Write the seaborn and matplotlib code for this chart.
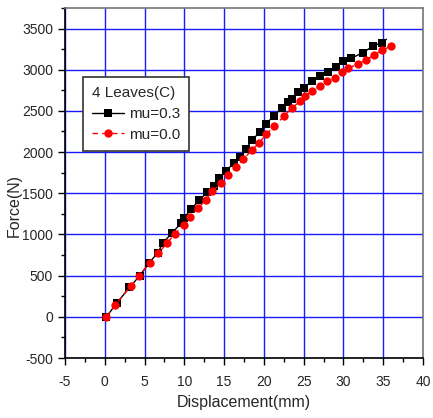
import matplotlib
matplotlib.use("Agg")
import matplotlib.pyplot as plt
from matplotlib.ticker import MultipleLocator
import seaborn as sns
import pandas as pd

# Force-displacement curves for a 4-leaf spring, two friction coefficients
disp_mu03 = [0.2, 1.5, 3.1, 4.4, 5.6, 6.7, 7.3, 8.5, 9.6, 10.0, 10.8, 11.9, 12.8,
             13.75, 14.4, 15.3, 16.25, 17.0, 17.7, 18.5, 19.5, 20.3, 21.25, 22.3,
             23.0, 23.5, 24.3, 25.0, 26.0, 27.1, 28.0, 29.0, 30.0, 31.0, 32.5,
             33.75, 34.8, 35.4]
force_mu03 = [0, 165, 357, 498, 659, 780, 900, 1020, 1141, 1200, 1305, 1415, 1510,
              1590, 1683, 1775, 1872, 1944, 2032, 2144, 2245, 2345, 2440, 2538,
              2610, 2647, 2727, 2779, 2859, 2928, 2968, 3028, 3100, 3141, 3209,
              3290, 3329, 3370]

disp_mu00 = [0.2, 1.33, 3.25, 4.3, 5.7, 6.75, 7.8, 8.8, 9.9, 10.7, 11.75, 12.7,
             13.5, 14.6, 15.5, 16.5, 17.4, 18.5, 19.4, 20.3, 21.3, 22.5, 23.5,
             24.6, 25.2, 26.1, 27.1, 27.9, 28.9, 29.8, 30.6, 31.8, 32.8, 33.9,
             34.9, 36.0]
force_mu00 = [0, 145, 370, 498, 659, 775, 891, 1008, 1110, 1213, 1321, 1422,
              1522, 1623, 1723, 1823, 1912, 2024, 2113, 2217, 2313, 2434, 2534,
              2618, 2678, 2747, 2807, 2859, 2900, 2968, 3020, 3068, 3117, 3181,
              3237, 3289]

series_labels = ["mu=0.3", "mu=0.0"]
legend_title = "4 Leaves(C)"

sns.set_style("white")
plt.rcParams["font.family"] = ["Liberation Sans", "DejaVu Sans"]
plt.rcParams["axes.unicode_minus"] = False

df03 = pd.DataFrame({"disp": disp_mu03, "force": force_mu03})
df00 = pd.DataFrame({"disp": disp_mu00, "force": force_mu00})

fig = plt.figure(figsize=(4.33, 4.18), dpi=100)
ax = fig.add_axes([0.150, 0.1435, 0.827, 0.8375])

sns.lineplot(data=df03, x="disp", y="force", sort=False, ax=ax, color="black",
             lw=1.0, marker="s", markersize=6.0, markeredgewidth=0,
             markevery=list(range(len(disp_mu03) - 1)), label=series_labels[0])
sns.lineplot(data=df00, x="disp", y="force", sort=False, ax=ax, color="red",
             lw=1.0, linestyle=(0, (4, 3)), marker="o", markersize=6.0,
             markeredgewidth=0, label=series_labels[1])

ax.set_xlim(-5, 40)
ax.set_ylim(-500, 3750)
ax.xaxis.set_major_locator(MultipleLocator(5))
ax.xaxis.set_minor_locator(MultipleLocator(2.5))
ax.yaxis.set_major_locator(MultipleLocator(500))
ax.yaxis.set_minor_locator(MultipleLocator(250))
ax.set_yticks(range(-500, 3501, 500))

ax.grid(True, which="major", color="#1a1aff", lw=1.0)
ax.set_axisbelow(True)

for side in ("left", "bottom"):
    ax.spines[side].set_color("black")
    ax.spines[side].set_linewidth(1.2)
for side in ("top", "right"):
    ax.spines[side].set_color("#777777")
    ax.spines[side].set_linewidth(1.2)

ax.tick_params(axis="x", which="major", pad=7)
ax.tick_params(axis="both", which="major", direction="out", length=5, width=1,
               labelsize=10, bottom=True, left=True, color="black")
ax.tick_params(axis="both", which="minor", direction="out", length=3, width=1,
               bottom=True, left=True, color="black")

ax.set_xlabel("Displacement(mm)", fontsize=11.5)
ax.set_ylabel("Force(N)", fontsize=11.5)
ax.xaxis.set_label_coords(0.5, -0.105)
ax.yaxis.set_label_coords(-0.122, 0.437)

leg = ax.legend(title=legend_title, loc="upper left",
                bbox_to_anchor=(0.050, 0.803), borderaxespad=0, fontsize=11,
                title_fontsize=11, frameon=True, fancybox=False, framealpha=1,
                edgecolor="#333333", handlelength=2.1, handletextpad=0.3,
                borderpad=0.6, labelspacing=0.45)
leg._legend_box.align = "left"
leg.get_frame().set_linewidth(1.2)

fig.savefig("out.png", dpi=100)
